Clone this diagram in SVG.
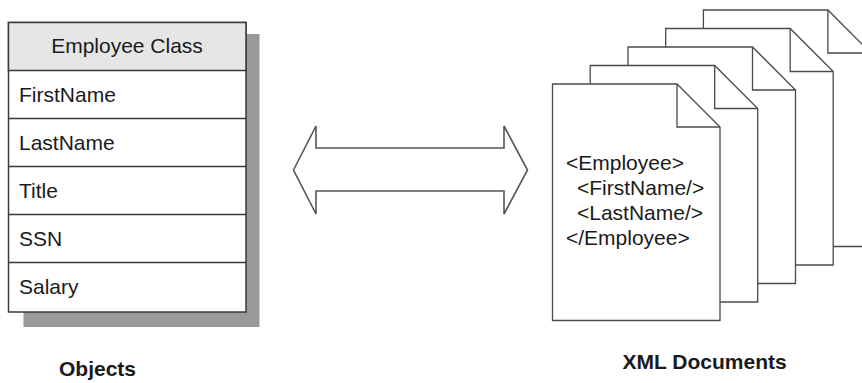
<svg xmlns="http://www.w3.org/2000/svg" width="862" height="383" viewBox="0 0 862 383">
<style>
  text { font-family: "Liberation Sans", Arial, sans-serif; fill: #1a1a1a; }
  .t { font-size: 21px; }
  .b { font-size: 21px; font-weight: bold; }
  .box { fill: #ffffff; stroke: #3a3a3a; stroke-width: 1.5; }
  .hdr { fill: #e6e6e6; stroke: #3a3a3a; stroke-width: 1.5; }
  .sep { stroke: #3a3a3a; stroke-width: 1.5; fill: none; }
  .doc { fill: #ffffff; stroke: #4a4a4a; stroke-width: 1.3; stroke-linejoin: miter; }
  .fold { fill: none; stroke: #4a4a4a; stroke-width: 1.3; }
  .arrow { fill: #ffffff; stroke: #555555; stroke-width: 1.6; stroke-linejoin: miter; }
</style>
<rect width="862" height="383" fill="#ffffff"/>

<g id="employee-class">
  <rect x="23.5" y="34" width="236" height="293" fill="#999999"/>
  <rect class="box" x="8.5" y="22.5" width="237.5" height="289.5"/>
  <rect class="hdr" x="8.5" y="22.5" width="237.5" height="48"/>
  <line class="sep" x1="8.5" y1="118.5" x2="246" y2="118.5"/>
  <line class="sep" x1="8.5" y1="166.5" x2="246" y2="166.5"/>
  <line class="sep" x1="8.5" y1="214.5" x2="246" y2="214.5"/>
  <line class="sep" x1="8.5" y1="262.5" x2="246" y2="262.5"/>
  <text class="t" x="127" y="53" text-anchor="middle">Employee Class</text>
  <text class="t" x="19" y="101.5">FirstName</text>
  <text class="t" x="19" y="150">LastName</text>
  <text class="t" x="19" y="198">Title</text>
  <text class="t" x="19" y="246">SSN</text>
  <text class="t" x="19" y="294">Salary</text>
</g>

<g id="connectors">
  <polygon class="arrow" points="293.5,170 316,126 316,148 504,148 504,126 527.5,170 504,214 504,191 316,191 316,214"/>
</g>

<g id="xml-documents">
  <g id="doc5">
    <path class="doc" d="M703.4,10 H827.9 L870.9,53 V246.5 H703.4 Z"/>
    <path class="fold" d="M827.9,10 V53 H870.9"/>
  </g>
  <g id="doc4">
    <path class="doc" d="M665.7,28.5 H790.2 L833.2,71.5 V265 H665.7 Z"/>
    <path class="fold" d="M790.2,28.5 V71.5 H833.2"/>
  </g>
  <g id="doc3">
    <path class="doc" d="M628,47 H752.5 L795.5,90 V283.5 H628 Z"/>
    <path class="fold" d="M752.5,47 V90 H795.5"/>
  </g>
  <g id="doc2">
    <path class="doc" d="M590.2,65.5 H714.7 L757.7,108.5 V302 H590.2 Z"/>
    <path class="fold" d="M714.7,65.5 V108.5 H757.7"/>
  </g>
  <g id="doc1">
    <path class="doc" d="M552.5,84 H677 L720,127 V320.5 H552.5 Z"/>
    <path class="fold" d="M677,84 V127 H720"/>
    <text class="t" x="566" y="169.5">&lt;Employee&gt;</text>
    <text class="t" x="577" y="195">&lt;FirstName/&gt;</text>
    <text class="t" x="577" y="220">&lt;LastName/&gt;</text>
    <text class="t" x="566" y="245">&lt;/Employee&gt;</text>
  </g>
</g>

<g id="labels">
  <text class="b" x="59" y="376">Objects</text>
  <text class="b" x="622.5" y="369">XML Documents</text>
</g>
</svg>
